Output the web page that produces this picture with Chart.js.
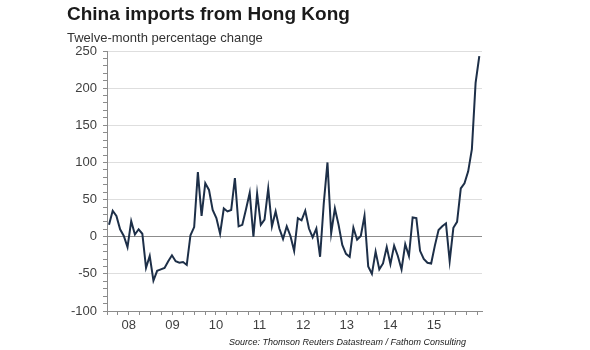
<!DOCTYPE html>
<html lang="en">
    <head>
        <meta charset="UTF-8" />
        <title>China imports from Hong Kong</title>
        <style>
            body {
                margin: 0;
                background: #fff;
                font-family: "Liberation Sans", Arial, sans-serif;
            }
            #wrap {
                position: relative;
                width: 590px;
                height: 350px;
            }
            #chart {
                position: absolute;
                left: 0;
                top: 0;
            }
            .title {
                position: absolute;
                left: 67px;
                top: 4px;
                font-size: 19px;
                font-weight: bold;
                line-height: 1;
                color: #1a1a1a;
                white-space: nowrap;
            }
            .subtitle {
                position: absolute;
                left: 67px;
                top: 31px;
                font-size: 13px;
                line-height: 1;
                color: #333;
                white-space: nowrap;
            }
            .source {
                position: absolute;
                right: 124px;
                top: 338px;
                font-size: 9px;
                font-style: italic;
                line-height: 1;
                color: #1a1a1a;
                white-space: nowrap;
            }
        </style>
        <script src="https://cdn.jsdelivr.net/npm/chart.js"></script>
    </head>
    <body>
        <div id="wrap">
            <canvas id="chart" width="590" height="350"></canvas>
            <div class="title">China imports from Hong Kong</div>
            <div class="subtitle">Twelve-month percentage change</div>
            <div class="source">Source: Thomson Reuters Datastream / Fathom Consulting</div>
        </div>
        <script>
            // monthly twelve-month % change
            const values = [
                16, 35, 28, 10, 1, -14, 21, 3, 10, 4, -42, -26,
                -59, -46, -44, -42, -33, -25, -33, -35, -34, -38, 2, 13,
                87, 28, 72, 63, 36, 25, 4, 38, 34, 36, 79, 14,
                16, 37, 59, 0, 58, 16, 23, 65, 14, 34, 11, -3,
                14, 1, -19, 25, 22, 35, 11, -1, 11, -27, 45, 100,
                5, 38, 16, -11, -23, -27, 12, -4, 1, 28, -40, -50,
                -20, -44, -36, -14, -37, -12, -26, -44, -10, -26, 26, 25,
                -19, -30, -35, -36, -12, 9, 14, 18, -33, 12, 20, 65,
                72, 88, 118, 207, 243
            ];
            const yearLabels = ["08", "09", "10", "11", "12", "13", "14", "15"];
            const yMin = -100;
            const yMax = 250;

            const xMin = -0.54;
            const xMax = values.length - 1 + 0.73;
            const quarterStep = 2.943;

            Chart.defaults.font.family = '"Liberation Sans", Arial, sans-serif';
            Chart.defaults.color = "#404040";

            const axisGrey = "#8c8c8c";

            new Chart(document.getElementById("chart"), {
                type: "line",
                data: {
                    datasets: [
                        {
                            data: values.map((v, i) => ({ x: i, y: v })),
                            borderColor: "#1d2f48",
                            borderWidth: 2,
                            pointRadius: 0,
                            tension: 0,
                            fill: false,
                        },
                    ],
                },
                options: {
                    responsive: false,
                    animation: false,
                    layout: {
                        padding: { left: 67, right: 108, top: 51, bottom: 0 },
                    },
                    plugins: {
                        legend: { display: false },
                        tooltip: { enabled: false },
                    },
                    scales: {
                        x: {
                            type: "linear",
                            min: xMin,
                            max: xMax,
                            afterBuildTicks: (scale) => {
                                const ticks = [];
                                for (let v = xMin; v <= xMax + 0.01; v += quarterStep) {
                                    ticks.push({ value: v });
                                }
                                scale.ticks = ticks;
                            },
                            afterFit: (scale) => {
                                scale.height = 39;
                            },
                            ticks: {
                                autoSkip: false,
                                maxRotation: 0,
                                padding: 3,
                                font: { size: 13 },
                                callback: (value, index) => {
                                    if (index % 4 !== 2) return "";
                                    return yearLabels[(index - 2) / 4] || "";
                                },
                            },
                            grid: {
                                drawOnChartArea: false,
                                tickLength: 4,
                                tickColor: axisGrey,
                            },
                            border: { color: axisGrey, width: 1 },
                        },
                        y: {
                            min: yMin,
                            max: yMax,
                            afterFit: (scale) => {
                                scale.width = 40;
                            },
                            ticks: {
                                stepSize: 10,
                                autoSkip: false,
                                padding: 6,
                                font: { size: 13 },
                                callback: (v) => (v % 50 === 0 ? v : ""),
                            },
                            grid: {
                                tickLength: 4,
                                tickColor: axisGrey,
                                color: (ctx) => {
                                    const v = ctx.tick.value;
                                    if (v === 0) return axisGrey;
                                    return v % 50 === 0 ? "#dedede" : "rgba(0,0,0,0)";
                                },
                            },
                            border: { color: axisGrey, width: 1 },
                        },
                    },
                },
            });
        </script>
    </body>
</html>
